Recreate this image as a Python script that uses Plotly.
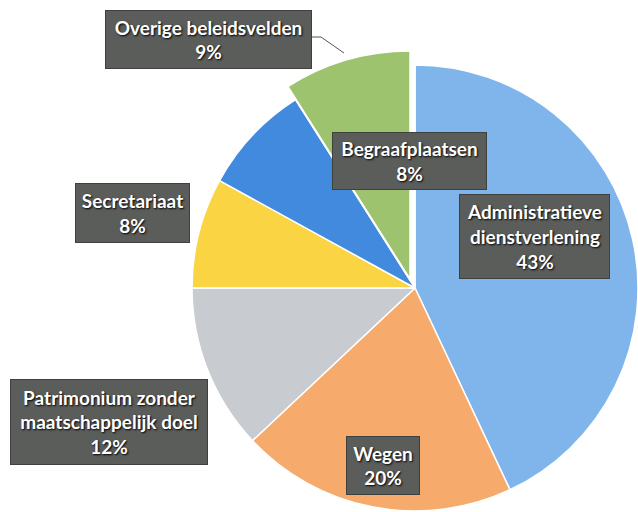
import plotly.graph_objects as go

# share of the budget per policy area (percent), clockwise from 12 o'clock
labels = ["Administratieve dienstverlening", "Wegen", "Patrimonium zonder maatschappelijk doel",
          "Secretariaat", "Begraafplaatsen", "Overige beleidsvelden"]
box_text = ["Administratieve<br>dienstverlening", "Wegen", "Patrimonium zonder<br>maatschappelijk doel",
            "Secretariaat", "Begraafplaatsen", "Overige beleidsvelden"]
shares = [43, 20, 12, 8, 8, 9]
colors = ["#80b5ec", "#f6aa6c", "#c8cbd0", "#fbd444", "#418ade", "#9dc36f"]

W, H = 638, 512


def dom(cx, cy, r):
    return dict(x=[(cx - r) / W, (cx + r) / W], y=[1 - (cy + r) / H, 1 - (cy - r) / H])


fig = go.Figure()

# main pie, last slice left empty (it is drawn pulled out below)
main_colors = colors[:-1] + ["rgba(0,0,0,0)"]
fig.add_trace(go.Pie(
    labels=labels, values=shares, sort=False, direction="clockwise", rotation=0,
    marker=dict(colors=main_colors, line=dict(color="#ffffff", width=1.5)),
    textinfo="none", hoverinfo="skip", showlegend=False,
    domain=dom(415, 288, 223),
))

# exploded "Overige" slice
rest = sum(shares[:-1])
fig.add_trace(go.Pie(
    labels=["rest", labels[-1]], values=[rest, shares[-1]], sort=False,
    direction="clockwise", rotation=0,
    marker=dict(colors=["rgba(0,0,0,0)", colors[-1]],
                line=dict(color=["rgba(0,0,0,0)", "#ffffff"], width=1.5)),
    textinfo="none", hoverinfo="skip", showlegend=False,
    domain=dom(410, 279, 228),
))

# label boxes: centre x, centre y, width, height (pixels)
boxes = [
    (534.5, 236.5, 151, 85),
    (383, 465.5, 74, 59),
    (109, 422, 198, 86),
    (132.5, 213, 115, 60),
    (409.5, 161, 155, 58),
    (208.5, 39.5, 207, 59),
]
for txt, s, (bx, by, bw, bh) in zip(box_text, shares, boxes):
    fig.add_annotation(
        x=bx / W, y=1 - by / H, xref="paper", yref="paper",
        xanchor="center", yanchor="middle",
        text=f"{txt}<br>{s}%", showarrow=False,
        width=bw - 2, height=bh - 2, borderpad=0,
        bgcolor="#5b5d5b", bordercolor="#3e403e", borderwidth=1,
        font=dict(family="Lato", size=19, color="#ffffff", weight="bold",
                  shadow="1px 1px 2px #000000"),
    )

# leader line for the pulled-out slice
pts = [(312, 37), (321, 37), (344, 53)]
path = "M " + " L ".join(f"{x / W},{1 - y / H}" for x, y in pts)
fig.add_shape(type="path", path=path, xref="paper", yref="paper",
              line=dict(color="#555555", width=1))

fig.update_layout(
    width=W, height=H,
    margin=dict(l=0, r=0, t=0, b=0),
    paper_bgcolor="#ffffff", plot_bgcolor="#ffffff",
)

fig.write_html("out.html", config={"displayModeBar": False},
               post_script="document.body.style.margin='0px';")
